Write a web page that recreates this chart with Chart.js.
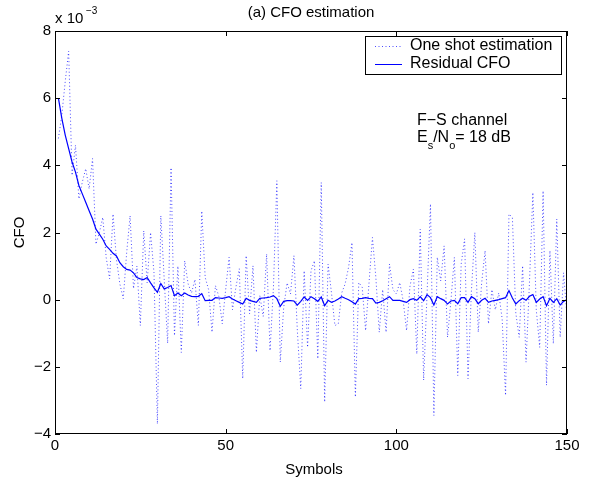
<!DOCTYPE html>
<html>
<head>
<meta charset="utf-8">
<script src="https://cdn.jsdelivr.net/npm/chart.js@4.4.0/dist/chart.umd.min.js"></script>
<style>
  body { margin: 0; background: #fff; }
  canvas { display: block; }
</style>
</head>
<body>
<canvas id="myChart" width="592" height="484"></canvas>
<script>
// values are in units of 1e-3
const symbols = Array.from({ length: 150 }, (_, i) => i + 1);

const oneShot = [
  4.8, 5.5, 6.5, 7.4, 3.7, 4.6, 3.0, 3.5, 3.9, 3.3,
  4.2, 1.65, 2.0, 2.45, 1.25, 0.62, 2.55, 1.2, 0.47, 0.03,
  1.4, 2.5, 0.33, 1.0, -0.77, 2.05, 0.5, 2.0, 0.8, -3.7,
  2.5, 0.6, -1.3, 3.93, -1.07, 1.0, -1.57, 1.16, 0.47, 0.2,
  0.6, -0.77, 2.64, 0.66, 0.3, -0.97, 0.42, 0.1, -0.72, 0.3,
  1.26, -0.3, 0.37, 0.92, -2.35, 1.31, -0.42, 1.01, -1.57, 0.12,
  -0.5, 1.36, -1.52, 0.37, 3.54, -1.86, -0.23, 0.5, 0.17, 1.31,
  -0.92, -2.65, 0.86, -1.42, 0.86, 1.16, -1.76, 3.49, -3.05, 1.06,
  0.2, -0.77, -0.72, 0.2, 0.47, 0.96, 1.7, -2.9, 0.51, 0.37,
  -0.92, 0.5, 1.85, 0.66, -0.97, 0.3, -0.97, 1.06, 0.3, 0.17,
  0.51, -0.03, -0.92, 0.4, 0.91, -1.62, 2.1, -2.4, 0.17, 2.85,
  -3.45, 1.26, 0.56, 1.6, -1.12, -0.03, 1.26, -2.26, 1.06, 1.81,
  -2.35, 0.27, 2.0, -0.97, 0.5, 1.46, -0.72, 0.3, -0.3, 0.2,
  -0.57, -2.85, 2.55, 2.45, -0.4, -1.12, 1.01, -1.86, 0.5, 3.19,
  -0.3, -1.42, 3.24, -2.55, 1.46, -1.31, 2.4, -1.12, 0.8, -0.5
];

const residual = [
  6.0, 5.4, 4.9, 4.5, 4.1, 3.8, 3.4, 3.15, 2.9, 2.65,
  2.4, 2.1, 1.95, 1.8, 1.6, 1.5, 1.38, 1.3, 1.1, 0.98,
  0.9, 0.88, 0.8, 0.66, 0.62, 0.6, 0.66, 0.5, 0.35, 0.22,
  0.48, 0.32, 0.36, 0.42, 0.12, 0.2, 0.12, 0.2, 0.14, 0.1,
  0.09, 0.1, 0.18, -0.03, -0.02, -0.02, 0.06, 0.05, 0.04, 0.06,
  0.09, 0.02, -0.03, -0.08, -0.13, 0.04, -0.02, -0.05, -0.08, 0.04,
  0.05, 0.06, 0.08, 0.12, 0.03, -0.2, -0.05, -0.03, -0.03, -0.04,
  -0.16, -0.05, 0.08, -0.02, 0.09, 0.03, -0.05, 0.08, -0.18, -0.02,
  -0.08, -0.04, 0.02, 0.09, 0.04, 0.0, -0.06, -0.13, 0.03, 0.04,
  0.06, 0.04, 0.03, -0.1, -0.08, -0.03, 0.03, 0.09, -0.02, -0.02,
  -0.02, -0.05, -0.08, 0.0, 0.03, -0.02, 0.09, -0.03, 0.15, 0.06,
  -0.16, 0.09, 0.03, -0.02, -0.13, -0.04, -0.02, -0.12, 0.06, 0.06,
  -0.08, 0.09, 0.03, -0.12, -0.02, 0.04, -0.08, -0.04, -0.02, 0.0,
  0.03, 0.06, 0.27, 0.05, -0.13, -0.03, 0.04, -0.02, 0.1, 0.15,
  -0.08, 0.02, 0.09, -0.18, 0.04, -0.08, 0.03, -0.16, -0.05, 0.0
];

const xTicks = [0, 50, 100, 150];
const yTicks = [-4, -2, 0, 2, 4, 6, 8];
const seriesNames = ['One shot estimation', 'Residual CFO'];

const FONT = '"Liberation Sans", Arial, sans-serif';

const matlabDecor = {
  id: 'matlabDecor',
  afterDraw(chart) {
    const c = chart.ctx;
    const a = chart.chartArea;
    const xs = chart.scales.x, ys = chart.scales.y;
    c.save();
    // box
    c.strokeStyle = '#000';
    c.lineWidth = 1;
    c.strokeRect(a.left + 0.5, a.top + 0.5, a.right - a.left - 1, a.bottom - a.top - 1);
    // inward ticks on all sides
    c.beginPath();
    xTicks.forEach(v => {
      const px = Math.round(xs.getPixelForValue(v)) + 0.5;
      c.moveTo(px, a.bottom); c.lineTo(px, a.bottom - 5);
      c.moveTo(px, a.top); c.lineTo(px, a.top + 5);
    });
    yTicks.forEach(v => {
      const py = Math.round(ys.getPixelForValue(v)) + 0.5;
      c.moveTo(a.left, py); c.lineTo(a.left + 5, py);
      c.moveTo(a.right, py); c.lineTo(a.right - 5, py);
    });
    c.stroke();

    c.fillStyle = '#000';
    c.font = '15px ' + FONT;
    c.textAlign = 'center';
    c.textBaseline = 'middle';
    c.fillText('(a) CFO estimation', 311, 13);
    c.fillText('Symbols', 314, 470);
    c.save();
    c.translate(20, (a.top + a.bottom) / 2);
    c.rotate(-Math.PI / 2);
    c.fillText('CFO', 0, 0);
    c.restore();

    // exponent label
    c.textAlign = 'left';
    c.fillText('x 10', 55, 19);
    c.font = '10px ' + FONT;
    c.fillText('\u22123', 86, 11);

    // legend
    c.font = '16px ' + FONT;
    c.fillStyle = '#fff';
    c.fillRect(365, 36, 197, 39);
    c.strokeStyle = '#000';
    c.strokeRect(365.5, 36.5, 196, 38);
    c.strokeStyle = 'rgba(0,0,255,0.7)';
    c.setLineDash([1, 2.5]);
    c.beginPath(); c.moveTo(375, 46.5); c.lineTo(402, 46.5); c.stroke();
    c.setLineDash([]);
    c.strokeStyle = '#0000ff';
    c.beginPath(); c.moveTo(375, 64.5); c.lineTo(402, 64.5); c.stroke();
    c.fillStyle = '#000';
    c.fillText(seriesNames[0], 410, 46);
    c.fillText(seriesNames[1], 410, 64);

    // annotation
    const x0 = 417;
    c.fillText('F\u2212S channel', x0, 121);
    c.fillText('E', x0, 138);
    let w = c.measureText('E').width;
    c.font = '11px ' + FONT;
    c.fillText('s', x0 + w, 146);
    let w2 = c.measureText('s').width;
    c.font = '16px ' + FONT;
    c.fillText('/N', x0 + w + w2, 138);
    let w3 = c.measureText('/N').width;
    c.font = '11px ' + FONT;
    c.fillText('o', x0 + w + w2 + w3, 146);
    let w4 = c.measureText('o').width;
    c.font = '16px ' + FONT;
    c.fillText('= 18 dB', x0 + w + w2 + w3 + w4, 138);
    c.restore();
  }
};

new Chart(document.getElementById('myChart'), {
  type: 'line',
  data: {
    datasets: [
      {
        label: seriesNames[0],
        data: symbols.map((s, i) => ({ x: s, y: oneShot[i] })),
        borderColor: 'rgba(0,0,255,0.7)',
        borderWidth: 1,
        borderDash: [1, 2.5],
        pointRadius: 0,
        tension: 0
      },
      {
        label: seriesNames[1],
        data: symbols.map((s, i) => ({ x: s, y: residual[i] })),
        borderColor: '#0000ff',
        borderWidth: 1.2,
        pointRadius: 0,
        tension: 0
      }
    ]
  },
  options: {
    responsive: false,
    animation: false,
    layout: { padding: { top: 31, right: 25, left: 0, bottom: 0 } },
    plugins: { legend: { display: false }, tooltip: { enabled: false } },
    scales: {
      x: {
        type: 'linear',
        min: 0, max: 150,
        afterBuildTicks: s => { s.ticks = xTicks.map(v => ({ value: v })); },
        ticks: { color: '#000', font: { size: 15, family: FONT }, padding: 3, maxRotation: 0 },
        grid: { display: false, drawTicks: false },
        border: { display: false },
        afterFit: s => { s.height = 50; }
      },
      y: {
        min: -4, max: 8,
        afterBuildTicks: s => { s.ticks = yTicks.map(v => ({ value: v })); },
        ticks: {
          color: '#000', font: { size: 15, family: FONT }, padding: 4,
          callback: v => String(v).replace('-', '\u2212')
        },
        grid: { display: false, drawTicks: false },
        border: { display: false },
        afterFit: s => { s.width = 55; }
      }
    }
  },
  plugins: [matlabDecor]
});
</script>
</body>
</html>
